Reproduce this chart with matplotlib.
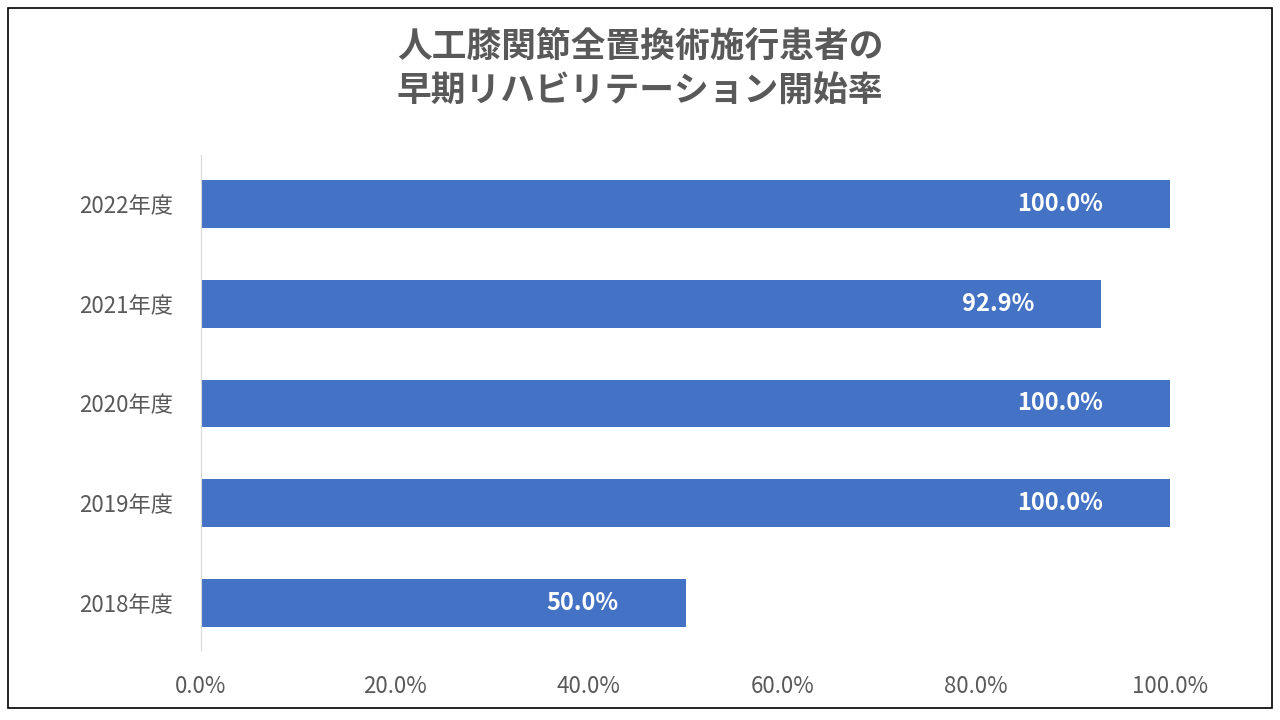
import matplotlib
matplotlib.use("Agg")
import matplotlib.pyplot as plt
from matplotlib.patches import Rectangle

plt.rcParams["font.family"] = "Noto Sans CJK JP"

categories = ["2018年度", "2019年度", "2020年度", "2021年度", "2022年度"]
values = [50.0, 100.0, 100.0, 92.9, 100.0]
xticks = [0, 20, 40, 60, 80, 100]

fig = plt.figure(figsize=(12.8, 7.2), dpi=100)
fig.patches.append(Rectangle((8/1280, 12/720), 1264/1280, 700/720, transform=fig.transFigure,
                             fill=False, edgecolor="black", linewidth=1.2))
ax = fig.add_axes([201/1280, 70/720, 969/1280, 495/720])
y = list(range(len(categories)))
ax.barh(y, values, height=0.48, color="#4472C4")
for yi, v in zip(y, values):
    ax.annotate(f"{v:.1f}%", (v, yi), xytext=(-48, 0), textcoords="offset points",
                ha="right", va="center", color="white", fontsize=17, fontweight="bold")
ax.set_xlim(0, 100)
ax.set_ylim(-0.47, 4.49)
ax.set_yticks(y)
ax.set_yticklabels(categories, fontsize=16, color="#595959")
ax.set_xticks(xticks)
ax.set_xticklabels([f"{t:.1f}%" for t in xticks], fontsize=16, color="#595959")
ax.tick_params(length=0, pad=18)
ax.tick_params(axis="y", pad=20)
for s in ["top", "right", "bottom"]:
    ax.spines[s].set_visible(False)
ax.spines["left"].set_color("#D9D9D9")
fig.text(0.5, 0.905, "人工膝関節全置換術施行患者の\n早期リハビリテーション開始率", ha="center", va="center",
         fontsize=25, fontweight="bold", color="#595959", linespacing=1.3)
fig.savefig("out.png", dpi=100)
